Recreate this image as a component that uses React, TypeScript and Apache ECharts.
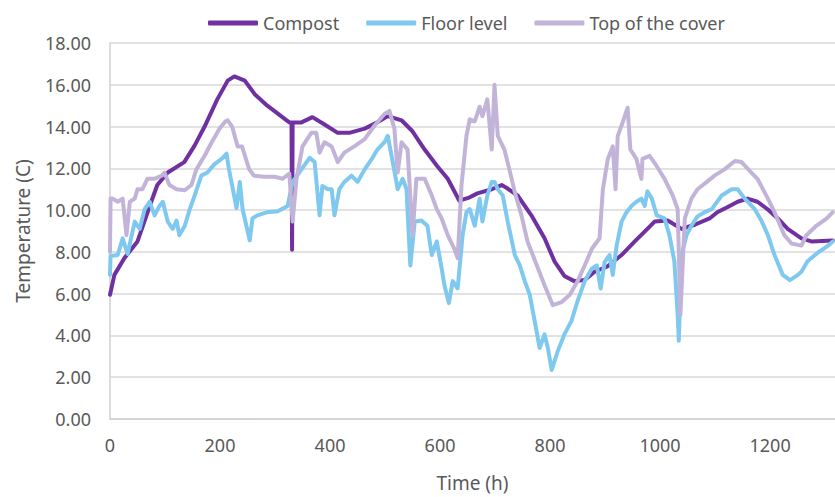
import React, { useEffect, useRef } from "react";
import * as echarts from "echarts";

const seriesNames = ["Compost", "Floor level", "Top of the cover"];
const xTicks = [0, 200, 400, 600, 800, 1000, 1200];

const compostData: [number, number][] = [
  [0, 5.95], [8, 6.9], [26, 7.7], [50, 8.5], [75, 10.4], [86, 11.2], [105, 11.8], [135, 12.3],
  [154, 13.1], [172, 14.0], [195, 15.3], [214, 16.2], [226, 16.4], [245, 16.2], [263, 15.55],
  [286, 15.0], [311, 14.5], [326, 14.2], [330, 14.2], [331, 8.1], [332, 14.2], [348, 14.2],
  [368, 14.45], [390, 14.1], [414, 13.7], [435, 13.7], [463, 13.9], [486, 14.2], [505, 14.5],
  [530, 14.3], [549, 13.8], [572, 12.9], [595, 12.1], [614, 11.5], [630, 10.7], [635, 10.45],
  [653, 10.6], [668, 10.8], [694, 11.0], [712, 11.2], [719, 11.1], [741, 10.7], [766, 9.75],
  [790, 8.65], [808, 7.55], [826, 6.85], [844, 6.6], [863, 6.65], [881, 7.05], [904, 7.3],
  [930, 7.85], [954, 8.5], [977, 9.1], [990, 9.45], [1014, 9.5], [1039, 9.1], [1063, 9.3],
  [1090, 9.6], [1104, 9.9], [1123, 10.15], [1141, 10.4], [1159, 10.55], [1177, 10.4],
  [1195, 10.05], [1214, 9.6], [1232, 9.1], [1257, 8.65], [1275, 8.5], [1314, 8.55],
];

const floorData: [number, number][] = [
  [0, 6.9], [1, 7.8], [14, 7.85], [23, 8.65], [32, 7.9], [45, 9.45], [54, 9.1], [63, 10.05],
  [72, 10.4], [81, 9.75], [90, 10.2], [96, 10.4], [105, 9.45], [114, 9.1], [121, 9.5], [126, 8.8],
  [136, 9.25], [145, 10.05], [154, 10.7], [166, 11.65], [177, 11.8], [190, 12.2], [203, 12.45],
  [212, 12.7], [216, 12.0], [230, 10.1], [236, 11.35], [241, 10.05], [254, 8.55], [259, 9.6],
  [268, 9.75], [286, 9.9], [305, 9.95], [323, 10.2], [332, 11.35], [348, 11.95], [363, 12.5],
  [372, 12.3], [381, 9.75], [386, 11.15], [396, 11.0], [403, 11.0], [408, 9.75], [417, 11.0],
  [426, 11.35], [439, 11.65], [450, 11.35], [463, 11.95], [476, 12.45], [486, 12.9], [499, 13.25],
  [505, 13.55], [514, 12.3], [523, 11.0], [532, 11.5], [539, 11.0], [546, 7.35], [554, 9.45],
  [566, 9.5], [577, 9.25], [585, 7.85], [594, 8.5], [603, 7.2], [608, 6.4], [616, 5.55],
  [623, 6.6], [632, 6.25], [641, 8.8], [648, 9.9], [654, 10.05], [663, 9.25], [672, 10.55],
  [677, 9.45], [686, 10.7], [694, 11.35], [699, 11.35], [705, 11.0], [714, 10.7], [723, 9.45],
  [736, 7.85], [745, 7.35], [754, 6.6], [763, 5.95], [772, 4.7], [781, 3.4], [790, 4.05],
  [796, 3.4], [803, 2.35], [814, 3.25], [826, 4.05], [839, 4.7], [850, 5.65], [863, 6.6],
  [876, 7.2], [885, 7.35], [892, 6.25], [899, 7.5], [908, 7.85], [914, 6.9], [921, 8.3],
  [930, 9.45], [939, 9.9], [948, 10.2], [957, 10.4], [966, 10.55], [972, 10.2], [977, 10.9],
  [985, 10.55], [994, 9.75], [1008, 9.6], [1017, 8.8], [1026, 7.55], [1032, 5.0], [1034, 3.75],
  [1039, 7.85], [1048, 8.8], [1057, 9.25], [1068, 9.7], [1081, 9.9], [1094, 10.05], [1112, 10.7],
  [1130, 11.0], [1141, 11.0], [1154, 10.55], [1172, 10.05], [1185, 9.45], [1196, 8.8],
  [1208, 7.85], [1223, 6.9], [1236, 6.65], [1248, 6.85], [1257, 7.05], [1268, 7.55],
  [1286, 7.95], [1303, 8.25], [1314, 8.5],
];

const coverData: [number, number][] = [
  [0, 8.0], [1, 10.55], [5, 10.55], [14, 10.4], [23, 10.55], [30, 8.8], [36, 10.4], [45, 10.55],
  [50, 11.0], [59, 11.0], [68, 11.5], [81, 11.5], [94, 11.65], [99, 11.8], [108, 11.2],
  [121, 11.0], [136, 10.95], [148, 11.2], [157, 11.95], [172, 12.6], [185, 13.25], [199, 13.9],
  [210, 14.25], [214, 14.3], [222, 14.0], [232, 13.05], [240, 13.05], [253, 11.95], [262, 11.65],
  [280, 11.6], [299, 11.6], [314, 11.5], [326, 11.75], [332, 9.45], [339, 11.5], [350, 13.05],
  [366, 13.7], [375, 13.7], [381, 12.75], [390, 13.25], [403, 13.05], [414, 12.3], [426, 12.75],
  [444, 13.05], [463, 13.4], [481, 14.05], [499, 14.6], [508, 14.75], [517, 13.9], [523, 11.8],
  [530, 13.25], [541, 12.9], [550, 8.8], [557, 11.5], [572, 11.5], [585, 10.7], [594, 10.05],
  [603, 9.6], [614, 8.8], [626, 8.15], [632, 7.7], [639, 11.2], [648, 13.55], [654, 14.35],
  [663, 14.25], [672, 14.95], [677, 14.5], [686, 15.3], [694, 12.9], [699, 16.0], [705, 13.55],
  [717, 12.9], [726, 11.95], [736, 10.85], [748, 9.75], [759, 8.5], [776, 7.35], [790, 6.4],
  [805, 5.45], [821, 5.6], [836, 5.95], [850, 6.6], [863, 7.35], [876, 8.15], [890, 8.65],
  [896, 11.0], [905, 12.45], [914, 13.05], [919, 11.0], [923, 13.55], [932, 14.2], [941, 14.9],
  [946, 12.9], [957, 12.45], [966, 11.5], [968, 12.45], [981, 12.6], [994, 12.1], [1008, 11.5],
  [1023, 10.7], [1032, 10.05], [1037, 5.0], [1045, 9.6], [1057, 10.55], [1068, 11.0],
  [1085, 11.35], [1099, 11.65], [1117, 11.95], [1136, 12.35], [1148, 12.3], [1166, 11.8],
  [1177, 11.5], [1196, 10.55], [1208, 9.9], [1226, 8.8], [1239, 8.4], [1257, 8.3], [1266, 8.8],
  [1284, 9.25], [1303, 9.6], [1314, 9.9],
];

const colors = ["#7030A0", "#7FC8EF", "#C2B4D8"];
const FONT = "Noto Sans";
const GRAY = "#595959";

export default function App() {
  const ref = useRef<HTMLDivElement>(null);
  useEffect(() => {
    if (!ref.current) return;
    const chart = echarts.init(ref.current, null, { renderer: "svg" });
    const datas = [compostData, floorData, coverData];
    chart.setOption({
      animation: false,
      color: colors,
      textStyle: { fontFamily: FONT },
      legend: {
        top: 9,
        left: 203,
        itemWidth: 50,
        itemHeight: 5,
        itemGap: 27,
        icon: "roundRect",
        textStyle: { color: GRAY, fontSize: 18, fontFamily: FONT },
        data: seriesNames,
      },
      grid: { left: 110, right: 0, top: 43, bottom: 75, containLabel: false },
      xAxis: {
        type: "value",
        min: 0,
        max: 1318,
        interval: 200,
        name: "Time (h)",
        nameLocation: "middle",
        nameGap: 54,
        nameTextStyle: { color: GRAY, fontSize: 19, fontFamily: FONT },
        axisLine: { show: true, lineStyle: { color: "#D0D0D0", width: 1.5 } },
        axisTick: { show: false },
        splitLine: { show: false },
        axisLabel: {
          color: GRAY,
          fontSize: 18,
          margin: 17,
          showMaxLabel: false,
          formatter: (v: number) => (xTicks.includes(v) ? String(v) : ""),
        },
      },
      yAxis: {
        type: "value",
        min: 0,
        max: 18,
        interval: 2,
        name: "Temperature (C)",
        nameLocation: "middle",
        nameRotate: 90,
        nameGap: 78,
        nameTextStyle: { color: GRAY, fontSize: 19, fontFamily: FONT },
        axisLine: { show: true, lineStyle: { color: "#D0D0D0", width: 1.5 } },
        axisTick: { show: false },
        splitLine: { show: true, lineStyle: { color: "#D9D9D9", width: 1.5 } },
        axisLabel: {
          color: GRAY,
          fontSize: 18,
          margin: 19,
          formatter: (v: number) => v.toFixed(2),
        },
      },
      series: seriesNames.map((name, i) => ({
        name,
        type: "line",
        data: datas[i],
        showSymbol: false,
        symbol: "none",
        lineStyle: { width: 4, color: colors[i], cap: "round", join: "round" },
        itemStyle: { color: colors[i] },
      })),
    });
    return () => chart.dispose();
  }, []);
  return (
    <div
      ref={ref}
      style={{ position: "fixed", left: 0, top: 0, width: 835, height: 497, background: "#fff" }}
    />
  );
}
